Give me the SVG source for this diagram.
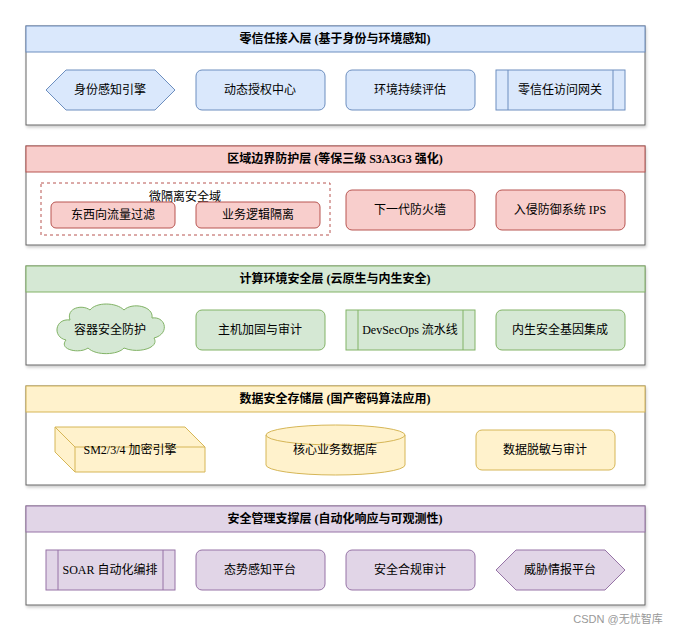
<svg xmlns="http://www.w3.org/2000/svg" width="673" height="634" viewBox="0 0 673 634">
<defs>
<style>
text{font-family:"Liberation Serif","Noto Sans CJK SC",serif;font-size:12px;fill:#000;text-anchor:middle;dominant-baseline:central}
.h{font-weight:bold;font-size:12px}
.body{fill:#fff;stroke:#666}
.b{fill:#dae8fc;stroke:#6c8ebf}
.r{fill:#f8cecc;stroke:#b85450}
.g{fill:#d5e8d4;stroke:#82b366}
.y{fill:#fff2cc;stroke:#d6b656}
.p{fill:#e1d5e7;stroke:#9673a6}
.n{fill:none}
</style>
<filter id="sh" x="-5%" y="-5%" width="110%" height="120%"><feDropShadow dx="1" dy="2" stdDeviation="1.5" flood-opacity="0.2"/></filter>
</defs>
<rect width="673" height="634" fill="#fff"/>
<g id="layer1">
<rect class="body" x="26" y="26" width="619" height="99" filter="url(#sh)"/>
<rect class="b" x="26" y="26" width="619" height="26"/>
<text class="h" x="335" y="39">零信任接入层 (基于身份与环境感知)</text>
</g>
<g id="n1a"><polygon class="b" points="46,90 66,70 155,70 175,90 155,110 66,110"/><text x="110" y="90">身份感知引擎</text></g>
<g id="n1b"><rect class="b" x="196" y="70" width="129" height="40" rx="6"/><text x="260" y="90">动态授权中心</text></g>
<g id="n1c"><rect class="b" x="346" y="70" width="129" height="40" rx="6"/><text x="410" y="90">环境持续评估</text></g>
<g id="n1d"><rect class="b" x="496" y="70" width="129" height="40"/><line class="b" x1="508" y1="70" x2="508" y2="110"/><line class="b" x1="613" y1="70" x2="613" y2="110"/><text x="560" y="90">零信任访问网关</text></g>

<g id="layer2">
<rect class="body" x="26" y="146" width="619" height="99" filter="url(#sh)"/>
<rect class="r" x="26" y="146" width="619" height="26"/>
<text class="h" x="335" y="159">区域边界防护层 (等保三级 S3A3G3 强化)</text>
</g>
<g id="microzone"><rect x="41" y="183" width="289" height="52" fill="none" stroke="#b85450" stroke-dasharray="3,3"/><text x="185" y="197">微隔离安全域</text></g>
<g id="n2a"><rect class="r" x="51" y="202" width="124" height="26" rx="5"/><text x="113" y="215">东西向流量过滤</text></g>
<g id="n2b"><rect class="r" x="196" y="202" width="124" height="26" rx="5"/><text x="258" y="215">业务逻辑隔离</text></g>
<g id="n2c"><rect class="r" x="346" y="190" width="129" height="40" rx="6"/><text x="410" y="210">下一代防火墙</text></g>
<g id="n2d"><rect class="r" x="496" y="190" width="129" height="40" rx="6"/><text x="560" y="210">入侵防御系统 IPS</text></g>

<g id="layer3">
<rect class="body" x="26" y="266" width="619" height="99" filter="url(#sh)"/>
<rect class="g" x="26" y="266" width="619" height="26"/>
<text class="h" x="335" y="279">计算环境安全层 (云原生与内生安全)</text>
</g>
<g id="n3a"><path class="g" d="M70,320 C55,318 52,337 66,340 C58,350 80,354 88,348 C96,356 118,355 124,348 C138,354 160,348 154,338 C170,334 166,316 152,318 C154,306 132,302 124,310 C116,302 96,302 90,310 C82,304 66,308 70,320 Z"/><text x="110" y="330">容器安全防护</text></g>
<g id="n3b"><rect class="g" x="196" y="310" width="129" height="40" rx="6"/><text x="260" y="330">主机加固与审计</text></g>
<g id="n3c"><rect class="g" x="346" y="310" width="129" height="40"/><line class="g" x1="358" y1="310" x2="358" y2="350"/><line class="g" x1="463" y1="310" x2="463" y2="350"/><text x="410" y="330">DevSecOps 流水线</text></g>
<g id="n3d"><rect class="g" x="496" y="310" width="129" height="40" rx="6"/><text x="560" y="330">内生安全基因集成</text></g>

<g id="layer4">
<rect class="body" x="26" y="386" width="619" height="99" filter="url(#sh)"/>
<rect class="y" x="26" y="386" width="619" height="26"/>
<text class="h" x="335" y="399">数据安全存储层 (国产密码算法应用)</text>
</g>
<g id="n4a"><path class="y" d="M55,427 L185,427 L205,447 L205,472 L75,472 L55,452 Z"/><path class="n" stroke="#d6b656" d="M55,427 L75,447 L205,447 M75,447 L75,472"/><text x="130" y="450">SM2/3/4 加密引擎</text></g>
<g id="n4b"><path class="y" d="M266,435 A69.5,10 0 0 1 405,435 L405,465 A69.5,10 0 0 1 266,465 Z"/><path class="n" stroke="#d6b656" d="M266,435 A69.5,10 0 0 0 405,435"/><text x="335" y="450">核心业务数据库</text></g>
<g id="n4c"><rect class="y" x="476" y="430" width="139" height="40" rx="6"/><text x="545" y="450">数据脱敏与审计</text></g>

<g id="layer5">
<rect class="body" x="26" y="506" width="619" height="99" filter="url(#sh)"/>
<rect class="p" x="26" y="506" width="619" height="26"/>
<text class="h" x="335" y="519">安全管理支撑层 (自动化响应与可观测性)</text>
</g>
<g id="n5a"><rect class="p" x="46" y="550" width="129" height="40"/><line class="p" x1="58" y1="550" x2="58" y2="590"/><line class="p" x1="163" y1="550" x2="163" y2="590"/><text x="110" y="570">SOAR 自动化编排</text></g>
<g id="n5b"><rect class="p" x="196" y="550" width="129" height="40" rx="6"/><text x="260" y="570">态势感知平台</text></g>
<g id="n5c"><rect class="p" x="346" y="550" width="129" height="40" rx="6"/><text x="410" y="570">安全合规审计</text></g>
<g id="n5d"><polygon class="p" points="496,570 516,550 605,550 625,570 605,590 516,590"/><text x="560" y="570">威胁情报平台</text></g>
<g id="connectors"/>
<text x="618" y="619" style="font-size:11px;fill:#999;font-family:'Liberation Sans','Noto Sans CJK SC',sans-serif">CSDN @无忧智库</text>
</svg>
